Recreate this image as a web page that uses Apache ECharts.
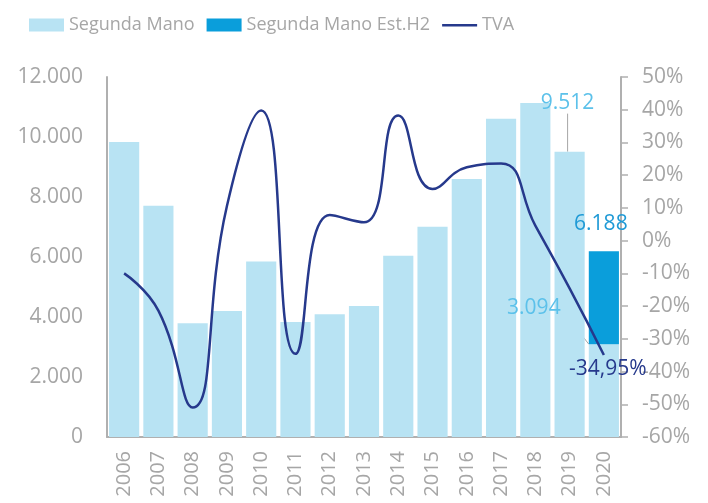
<!DOCTYPE html>
<html>
<head>
<meta charset="utf-8">
<script src="https://cdn.jsdelivr.net/npm/echarts@6/dist/echarts.min.js"></script>
<style>
  html, body { margin: 0; padding: 0; background: #fff; }
  #chart { width: 708px; height: 503px; }
</style>
</head>
<body>
<div id="chart"></div>
<script>
// Annual second-hand volume, H2 estimate for 2020, and year-on-year rate
const years = ['2006','2007','2008','2009','2010','2011','2012','2013','2014','2015','2016','2017','2018','2019','2020'];
const segundaMano = [9830, 7710, 3790, 4200, 5850, 3830, 4090, 4370, 6040, 7010, 8600, 10610, 11130, 9512, 3094];
const estH2 = [null, null, null, null, null, null, null, null, null, null, null, null, null, null, 3094];
const tva = [-10.0, -21.4, -51.0, 10.6, 39.8, -34.6, 7.8, 5.6, 38.2, 15.8, 22.4, 23.6, 4.6, -14.6, -34.95];

const leftTicks = { min: 0, max: 12000, interval: 2000 };
const rightTicks = { min: -60, max: 50, interval: 10 };

const FONT = '"Open Sans", sans-serif';
const GREY = '#a6a6a6';
const LIGHT = '#b8e3f3';
const DARK = '#0a9edb';
const NAVY = '#26398c';
const LABEL_BLUE = '#5cc1ea';

const fmtThousands = v => String(v).replace(/\B(?=(\d{3})+(?!\d))/g, '.');

// 2019 total and 2020 first-half figures carry callouts with leader lines
const calloutShift = { 13: { dx: -2, dy: -33 }, 14: { dx: -70, dy: -21 } };

const smData = segundaMano.map((v, i) => {
  if (calloutShift[i]) {
    return {
      value: v,
      label: { show: true, position: 'top', color: LABEL_BLUE, fontSize: 21, fontFamily: FONT,
               formatter: p => fmtThousands(p.value) },
      labelLine: { show: true, lineStyle: { color: '#a6a6a6', width: 1 } }
    };
  }
  return v;
});

const estData = estH2.map((v, i) => {
  if (v == null) return v;
  return {
    value: v,
    label: { show: true, position: 'top', color: '#1f9ad6', fontSize: 21, fontFamily: FONT,
             offset: [-3, -12],
             formatter: () => fmtThousands(segundaMano[i] + v) }
  };
});

const tvaData = tva.map((v, i) => {
  if (i === tva.length - 1) {
    return {
      value: v,
      label: { show: true, position: 'bottom', distance: 3, color: NAVY, fontSize: 21, fontFamily: FONT,
               offset: [4, 0],
               formatter: p => p.value.toFixed(2).replace('.', ',') + '%' }
    };
  }
  return v;
});

const chart = echarts.init(document.getElementById('chart'), null, { renderer: 'canvas' });
chart.setOption({
  animation: false,
  textStyle: { fontFamily: FONT },
  legend: {
    left: 24, top: 11,
    itemWidth: 35, itemHeight: 13, itemGap: 12,
    textStyle: { color: GREY, fontSize: 18, fontFamily: FONT },
    data: [
      { name: 'Segunda Mano', icon: 'rect' },
      { name: 'Segunda Mano Est.H2', icon: 'rect' },
      { name: 'TVA', icon: 'path://M0,0 L0,0 M0,5.5 L35,5.5 L35,8 L0,8 Z M35,13 L35,13' }
    ]
  },
  grid: { left: 107, right: 87, top: 77, bottom: 66, containLabel: false },
  xAxis: {
    type: 'category',
    data: years,
    axisLine: { lineStyle: { color: '#b0b0b0', width: 2 } },
    axisTick: { show: false },
    axisLabel: { rotate: 90, color: GREY, fontSize: 20, margin: 14, fontFamily: FONT }
  },
  yAxis: [
    {
      type: 'value', ...leftTicks,
      axisLine: { show: true, lineStyle: { color: '#b0b0b0', width: 2 } },
      axisTick: { show: false },
      splitLine: { show: false },
      axisLabel: { color: GREY, fontSize: 21, margin: 24, fontFamily: FONT, formatter: v => fmtThousands(v) }
    },
    {
      type: 'value', ...rightTicks,
      position: 'right',
      axisLine: { show: true, lineStyle: { color: '#b0b0b0', width: 2 } },
      axisTick: { show: true, length: 7, lineStyle: { color: '#b0b0b0', width: 1.5 } },
      splitLine: { show: false },
      axisLabel: { color: GREY, fontSize: 21, margin: 21, fontFamily: FONT, formatter: '{value}%' }
    }
  ],
  series: [
    {
      name: 'Segunda Mano', type: 'bar', stack: 'sm',
      data: smData,
      barCategoryGap: '12%',
      itemStyle: { color: LIGHT },
      labelLayout: p => calloutShift[p.dataIndex] || {}
    },
    {
      name: 'Segunda Mano Est.H2', type: 'bar', stack: 'sm',
      data: estData,
      barCategoryGap: '12%',
      itemStyle: { color: DARK }
    },
    {
      name: 'TVA', type: 'line', yAxisIndex: 1,
      data: tvaData,
      smooth: 0.5,
      symbol: 'circle',
      symbolSize: 0.1,
      lineStyle: { color: NAVY, width: 2.5 },
      itemStyle: { color: NAVY },
      z: 5
    }
  ]
});
</script>
</body>
</html>
